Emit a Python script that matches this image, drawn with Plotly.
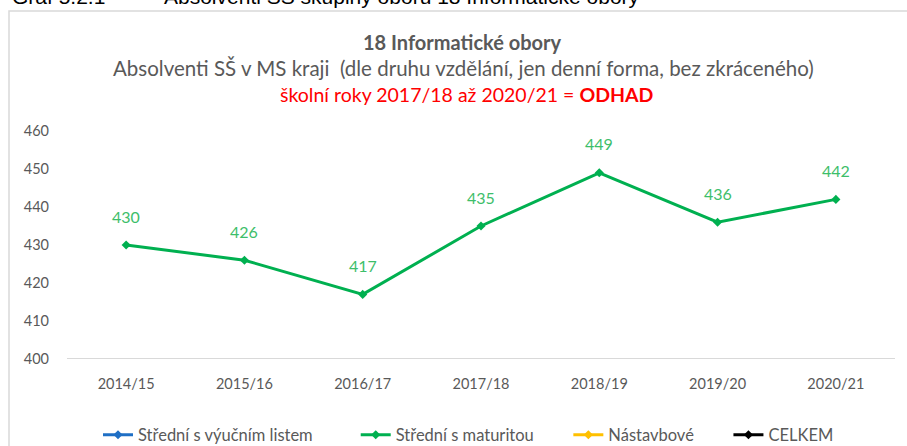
import plotly.graph_objects as go

categories = ["2014/15", "2015/16", "2016/17", "2017/18", "2018/19", "2019/20", "2020/21"]
vyucni = [None] * 7
maturita = [430, 426, 417, 435, 449, 436, 442]
nastavbove = [None] * 7
celkem = [None] * 7
y_ticks = [400, 410, 420, 430, 440, 450, 460]

W, H = 907, 446
L, R, T, B = 67, 12, 131, 87
pw, ph = W - L - R, H - T - B

def px(x):
    return (x - L) / pw

def py(y):
    return (H - B - y) / ph

FONT = "Lato"
GRAY = "#595959"
NB = "\u00a0"

fig = go.Figure()
fig.add_trace(go.Scatter(x=categories, y=vyucni, name="Střední s výučním listem" + NB * 9,
                         mode="lines+markers", line=dict(color="#1F6FC5", width=3),
                         marker=dict(symbol="diamond", size=7)))
fig.add_trace(go.Scatter(x=categories, y=maturita, name="Střední s maturitou" + NB * 7,
                         mode="lines+markers", line=dict(color="#00B050", width=3),
                         marker=dict(symbol="diamond", size=7)))
fig.add_trace(go.Scatter(x=categories, y=nastavbove, name="Nástavbové" + NB * 7,
                         mode="lines+markers", line=dict(color="#FFC000", width=3),
                         marker=dict(symbol="diamond", size=7)))
fig.add_trace(go.Scatter(x=categories, y=celkem, name="CELKEM",
                         mode="lines+markers", line=dict(color="#000000", width=3),
                         marker=dict(symbol="diamond", size=7)))

fig.update_layout(
    width=W, height=H,
    margin=dict(l=L, r=R, t=T, b=B, autoexpand=False),
    paper_bgcolor="white", plot_bgcolor="white",
    font=dict(family=FONT, color=GRAY, size=14),
    showlegend=True,
    legend=dict(orientation="h", x=px(98), xanchor="left", y=py(435), yanchor="middle",
                font=dict(size=16.5, color=GRAY), itemwidth=30, traceorder="normal"),
    xaxis=dict(type="category", range=[-0.5, len(categories) - 0.5], showgrid=False,
               showline=False, ticks="", tickfont=dict(size=14.5, color=GRAY), ticklabelstandoff=14),
    yaxis=dict(range=[400, 460], tickvals=y_ticks, showgrid=False, zeroline=False,
               showline=False, ticks="", tickfont=dict(size=14.5, color=GRAY), ticklabelstandoff=17),
)

shapes = [
    dict(type="line", xref="paper", yref="y", x0=0, x1=1, y0=400, y1=400,
         line=dict(color="#D9D9D9", width=2)),
    dict(type="rect", xref="paper", yref="paper", x0=px(9), x1=px(960), y0=py(11), y1=py(520),
         line=dict(color="#D9D9D9", width=1.5), fillcolor="rgba(0,0,0,0)", layer="below"),
]
fig.update_layout(shapes=shapes)

ann = [
    dict(text="<b>18 Informatické obory</b>", x=px(462), y=py(42), font=dict(size=20, color=GRAY)),
    dict(text="Absolventi SŠ v MS kraji  (dle druhu vzdělání, jen denní forma, bez zkráceného)",
         x=px(463), y=py(68), font=dict(size=20.5, color=GRAY)),
    dict(text="školní roky 2017/18 až 2020/21 = <b>ODHAD</b>", x=px(467), y=py(94),
         font=dict(size=19.5, color="#FF0000")),
]
for a in ann:
    a.update(xref="paper", yref="paper", xanchor="center", yanchor="middle", showarrow=False)

cap_font = dict(size=21, color="#000000", family="Liberation Sans")
ann.append(dict(text="Graf 5.2.1", x=px(107), y=py(10), xref="paper", yref="paper",
                xanchor="right", yanchor="bottom", showarrow=False, font=cap_font))
ann.append(dict(text="Absolventi SŠ skupiny oborů 18 Informatické obory", x=px(162), y=py(10),
                xref="paper", yref="paper", xanchor="left", yanchor="bottom", showarrow=False,
                font=cap_font))

for c, v in zip(categories, maturita):
    ann.append(dict(text=str(v), x=c, y=v, xref="x", yref="y", yshift=29, showarrow=False,
                    xanchor="center", yanchor="middle",
                    font=dict(size=16, color="#3DBE6A", family=FONT)))
fig.update_layout(annotations=ann)

fig.write_html("out.html", config={"displayModeBar": False},
               post_script="document.body.style.margin='0';")
